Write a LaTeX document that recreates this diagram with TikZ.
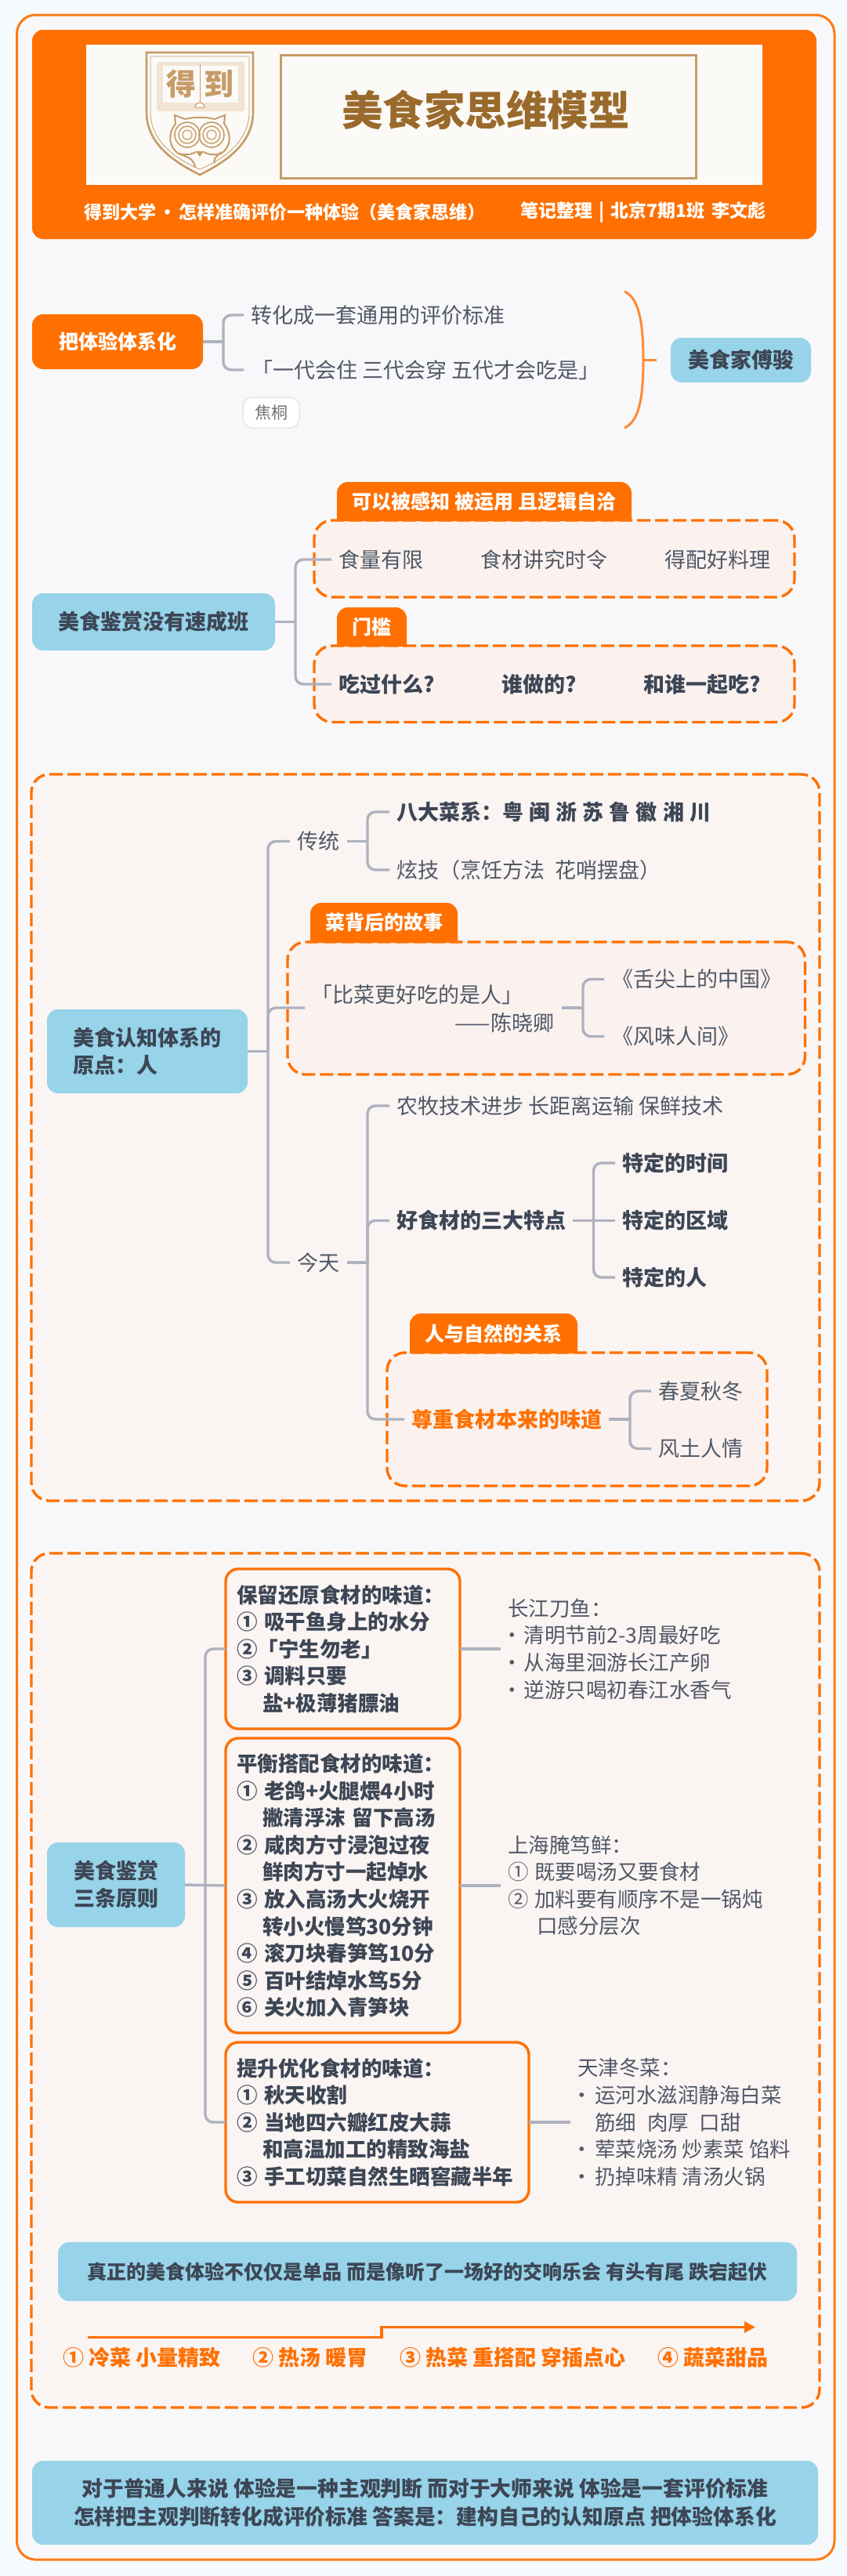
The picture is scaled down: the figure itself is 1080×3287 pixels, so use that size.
\documentclass[tikz,border=0pt]{standalone}
\usepackage{fontspec}
\setmainfont{Noto Sans CJK SC}
\usetikzlibrary{arrows.meta}
\definecolor{pagebg}{HTML}{F5FAFD}
\definecolor{innerbg}{HTML}{F8F8FB}
\definecolor{org}{HTML}{FF7000}
\definecolor{orgline}{HTML}{FF7A14}
\definecolor{brk}{HTML}{FF8A33}
\definecolor{sky}{HTML}{97D3E9}
\definecolor{txt}{HTML}{505866}
\definecolor{txtb}{HTML}{3D4655}
\definecolor{conncol}{HTML}{AEB1BE}
\definecolor{pink}{HTML}{FAF4F3}
\definecolor{pink2}{HTML}{FBF2EF}
\definecolor{banner}{HTML}{FBFAF6}
\definecolor{tan}{HTML}{C79B68}
\definecolor{tanl}{HTML}{F0E4D4}
\definecolor{brown}{HTML}{9A6A2C}
\newcommand{\bx}[7]{\node[#2,minimum width={(#5-#3)*1pt},minimum height={(#6-#4)*1pt}] (#1) at ({(#3+#5)/2},{(#4+#6)/2}) {#7};}
\newcommand{\tagbx}[6]{\fill[org] (#2,#5) -- (#2,{#3+14}) arc[start angle=180,end angle=270,radius=14] -- ({#4-14},#3) arc[start angle=270,end angle=360,radius=14] -- (#4,#5) -- cycle;
  \node[tagtext] (#1) at ({(#2+#4)/2},{(#3+#5)/2}) {#6};}
\newcommand{\dotitem}[1]{\makebox[#1][l]{\hspace*{-8pt}·}}
\tikzset{
  x=1pt,y=-1pt,
  conn/.style={draw=conncol,line width=3.4pt,rounded corners=10pt},
  base/.style={inner sep=0pt,outer sep=0pt},
  tr/.style={font=\fontsize{27}{34}\selectfont,text=txt,anchor=west,inner xsep=9pt,inner ysep=0pt,outer sep=0pt,text height=23.8pt,text depth=3.2pt},
  tb/.style={tr,font=\fontsize{27}{34}\selectfont\bfseries,text=txtb},
  torg/.style={tb,text=org},
  tagtext/.style={base,font=\fontsize{25}{30}\selectfont\bfseries,text=white},
  orgbox/.style={base,fill=org,rounded corners=14pt,text=white,font=\fontsize{25}{32}\selectfont\bfseries},
  skybox/.style={base,fill=sky,rounded corners=14pt,text=txtb,font=\fontsize{27}{35}\selectfont\bfseries,align=left},
  dashbox/.style={base,draw=org,fill=pink2,line width=3.4pt,dash pattern=on 17pt off 6pt,rounded corners=23pt},
  bigdash/.style={dashbox,fill=pink},
  solidbox/.style={base,draw=org,fill=pink,line width=3.4pt,rounded corners=16pt,align=left,inner xsep=14pt,text=txtb,font=\fontsize{26.5}{34.6}\selectfont\bfseries},
  side/.style={anchor=west,inner xsep=9pt,inner ysep=0pt,outer sep=0pt,align=left,text=txt,font=\fontsize{26.5}{34.6}\selectfont},
  hd/.style={base,text=white,font=\fontsize{23}{28}\selectfont\bfseries},
  lab/.style={base,text=org,font=\fontsize{27}{32}\selectfont\bfseries},
  logo/.style={draw=tan},
}
\begin{document}
\begin{tikzpicture}
\useasboundingbox (0,0) rectangle (1080,3287);
\fill[pagebg] (0,0) rectangle (1080,3287);
\draw[draw=orgline,fill=innerbg,line width=3pt,rounded corners=24pt] (21.5,19) rectangle (1065,3266);
% header
\bx{hdr}{base,fill=org,rounded corners=14pt}{41}{38}{1042}{305}{}
\fill[banner] (110,57) rectangle (973,236);
\bx{titlebox}{base,draw=tan,fill=banner,line width=3pt}{358}{70}{888}{227}{}
\node[base,text=brown,font=\fontsize{52.5}{60}\selectfont\bfseries] (title) at (620,140) {美食家思维模型};
% logo
\draw[logo,line width=2.6pt] (187,67) -- (323,67) -- (323,143) .. controls (323,185) and (285,208) .. (255,223) .. controls (225,208) and (187,185) .. (187,143) -- cycle;
\draw[logo,line width=.8pt] (192,72) -- (318,72) -- (318,143) .. controls (318,182) and (283,204) .. (255,216) .. controls (227,204) and (192,182) .. (192,143) -- cycle;
\fill[tanl,rounded corners=3pt] (200,79) rectangle (312,142);
\fill[banner] (208,84) rectangle (304,131);
\draw[tan,line width=1pt] (255,82) -- (255,132);
\draw[tan,line width=1pt,fill=banner] (249,137) arc[start angle=180,end angle=360,radius=6] -- cycle;
\node[base,text=tan,font=\fontsize{38}{40}\selectfont\bfseries] (logoa) at (231,107) {得};
\node[base,text=tan,font=\fontsize{38}{40}\selectfont\bfseries] (logob) at (279,107) {到};
\draw[logo,line width=2pt] (224,158) -- (223,147) -- (236,152);
\draw[logo,line width=2pt] (286,158) -- (287,147) -- (274,152);
\draw[logo,line width=2pt] (236,152) .. controls (248,149) and (262,149) .. (274,152);
\draw[logo,line width=2pt] (224,158) .. controls (214,170) and (215,188) .. (228,196);
\draw[logo,line width=2pt] (286,158) .. controls (296,170) and (295,188) .. (282,196);
\foreach \ex in {239,270}{
  \draw[logo,line width=1.6pt] (\ex,172) circle[radius=16];
  \draw[logo,line width=1.4pt] (\ex,172) circle[radius=11];
  \draw[logo,line width=1.2pt] (\ex,172) circle[radius=6];
}
\fill[tan] (250,193) -- (260,193) -- (255,200) -- cycle;
\draw[logo,line width=2pt] (228,196) .. controls (240,199) and (246,196) .. (250,194);
\draw[logo,line width=2pt] (282,196) .. controls (270,199) and (264,196) .. (260,194);
\draw[logo,line width=2pt] (228,196) .. controls (238,200) and (248,202) .. (249,214);
\draw[logo,line width=2pt] (282,194) .. controls (274,202) and (272,204) .. (274,208);
\node[hd,anchor=west] (hl) at (107,271) {得到大学\hspace{-2pt} · \hspace{-2pt}怎样准确评价一种体验（美食家思维）};
\node[hd,anchor=west] (hr) at (664,271) {笔记整理\hspace{3pt} | \hspace{3pt}北京7期1班\hspace{4pt} 李文彪};
% section 1
\bx{s1}{orgbox}{41}{401}{259}{471}{把体验体系化}
\node[tr] (s1a) at (311,402) {转化成一套通用的评价标准};
\node[tr,inner xsep=10pt] (s1b) at (311,472) {「一代会住 三代会穿 五代才会吃是」};
\bx{jt}{base,draw=black!10,fill=white,line width=1.5pt,rounded corners=12pt,text=black!55,font=\fontsize{21}{24}\selectfont}{310}{507}{382}{546}{焦桐}
\coordinate (j1) at (285,436);
\draw[conn] (s1.east) -- (j1);
\draw[conn] (j1) |- (s1a.west);
\draw[conn] (j1) |- (s1b.west);
\node[skybox,minimum width=179pt,minimum height=57pt,outer xsep=18pt] (fu) at (945.5,459.5) {美食家傅骏};
\coordinate (bk) at (821,459.5);
\coordinate (bk1) at (797,372);
\coordinate (bk2) at (797,546);
\draw[draw=brk,line width=3pt] (bk1) .. controls (815,380) and (821,410) .. (bk) .. controls (821,510) and (815,538) .. (bk2);
\draw[draw=brk,line width=3pt] (bk) -- (fu.west);
% section 2
\bx{d1}{dashbox}{401}{664}{1014}{762}{}
\bx{d2}{dashbox}{401}{824}{1014}{921.5}{}
\tagbx{tg1}{430}{615}{806}{665}{可以被感知 被运用 且逻辑自洽}
\tagbx{tg2}{430}{775}{519}{825}{门槛}
\bx{s2}{skybox}{41}{757}{351}{830}{美食鉴赏没有速成班}
\node[tr] (s2a) at (423,714) {食量有限};
\node[tr] (s2b) at (604,714) {食材讲究时令};
\node[tr] (s2c) at (839,714) {得配好料理};
\node[tb] (s2d) at (423,873) {吃过什么?};
\node[tb] (s2e) at (631,873) {谁做的?};
\node[tb] (s2f) at (812,873) {和谁一起吃?};
\coordinate (j2) at (377,793.5);
\draw[conn] (s2.east) -- (j2);
\draw[conn] (j2) |- (s2a.west);
\draw[conn] (j2) |- (s2d.west);
% section 3
\bx{da}{bigdash}{40}{988}{1046}{1915}{}
\bx{dc}{dashbox}{367}{1202}{1027.5}{1371}{}
\bx{dd}{dashbox}{494}{1726}{979}{1896}{}
\tagbx{tg3}{396}{1152}{584}{1203}{菜背后的故事}
\tagbx{tg4}{523}{1676}{737}{1727}{人与自然的关系}
\bx{s3}{skybox}{60}{1288}{316}{1395}{美食认知体系的\\原点：人}
\node[tr,inner xsep=9pt] (tt) at (370,1073.5) {传统};
\node[tr] (jt2) at (370,1611) {今天};
\coordinate (j3) at (342,1341.5);
\coordinate (j3s) at (389,1286);
\draw[conn] (s3.east) -- (j3);
\draw[conn] (j3) |- (tt.west);
\draw[conn] (j3) |- (jt2.west);
\draw[conn] (j3) |- (j3s);
\node[tb] (tta) at (497,1036) {八大菜系：粤\hspace{1pt} 闽\hspace{1pt} 浙\hspace{1pt} 苏\hspace{1pt} 鲁\hspace{1pt} 徽\hspace{1pt} 湘\hspace{1pt} 川};
\node[tr] (ttb) at (497,1110) {炫技（烹饪方法\hspace{7pt} 花哨摆盘）};
\coordinate (j4) at (469,1073.5);
\draw[conn] (tt.east) ++(1,0) -- (j4);
\draw[conn] (j4) |- (tta.west);
\draw[conn] (j4) |- (ttb.west);
\node[tr,inner xsep=0pt] (qa) at (397,1269) {「比菜更好吃的是人」};
\node[tr,inner xsep=0pt,anchor=east] (qb) at (707,1305) {——陈晓卿};
\node[tr,inner xsep=10pt] (bk3) at (771,1249.5) {《舌尖上的中国》};
\node[tr,inner xsep=10pt] (bk4) at (771,1322.5) {《风味人间》};
\coordinate (j5s) at (717,1286);
\coordinate (j5) at (744,1286);
\draw[conn] (j5s) -- (j5);
\draw[conn] (j5) |- (bk3.west);
\draw[conn] (j5) |- (bk4.west);
\node[tr] (ja) at (497,1411) {农牧技术进步 长距离运输 保鲜技术};
\node[tb,inner xsep=9pt] (jb) at (497,1557.5) {好食材的三大特点};
\node[torg] (jc) at (516,1811) {尊重食材本来的味道};
\coordinate (j6) at (469,1611);
\draw[conn] (jt2.east) ++(1,0) -- (j6);
\draw[conn] (j6) |- (ja.west);
\draw[conn] (j6) |- (jb.west);
\draw[conn] (j6) |- (jc.west);
\node[tb] (jb1) at (785,1484) {特定的时间};
\node[tb] (jb2) at (785,1557.5) {特定的区域};
\node[tb] (jb3) at (785,1630) {特定的人};
\coordinate (j7) at (757.5,1557.5);
\draw[conn] (jb.east) -- (jb2.west);
\draw[conn] (j7) |- (jb1.west);
\draw[conn] (j7) |- (jb3.west);
\node[tr] (jc1) at (831,1775) {春夏秋冬};
\node[tr] (jc2) at (831,1848.5) {风土人情};
\coordinate (j8) at (804,1811);
\draw[conn] (jc.east) -- (j8);
\draw[conn] (j8) |- (jc1.west);
\draw[conn] (j8) |- (jc2.west);
% section 4
\bx{db}{bigdash}{40}{1982}{1046}{3072}{}
\bx{s4}{skybox,align=center}{60}{2351}{236}{2459}{美食鉴赏\\三条原则}
\bx{p1}{solidbox,text width=271pt}{288}{2002}{587}{2206}{保留还原食材的味道：\\① 吸干鱼身上的水分\\②「宁生勿老」\\③ 调料只要\\\hspace*{33pt}盐+极薄猪膘油}
\bx{p2}{solidbox,text width=271pt}{288}{2218}{587}{2594}{平衡搭配食材的味道：\\① 老鸽+火腿煨4小时\\\hspace*{33pt}撇清浮沫 留下高汤\\② 咸肉方寸浸泡过夜\\\hspace*{33pt}鲜肉方寸一起焯水\\③ 放入高汤大火烧开\\\hspace*{33pt}转小火慢笃30分钟\\④ 滚刀块春笋笃10分\\⑤ 百叶结焯水笃5分\\⑥ 关火加入青笋块}
\bx{p3}{solidbox,text width=359pt}{288}{2606}{675}{2810}{提升优化食材的味道：\\① 秋天收割\\② 当地四六瓣红皮大蒜\\\hspace*{33pt}和高温加工的精致海盐\\③ 手工切菜自然生晒窖藏半年}
\coordinate (j9) at (262,2405);
\draw[conn] (s4.east) -- (p2.west);
\draw[conn] (j9) |- (p1.west);
\draw[conn] (j9) |- (p3.west);
\node[side] (n1) at (639,2104) {长江刀鱼：\\\dotitem{21pt}清明节前2-3周最好吃\\\dotitem{21pt}从海里洄游长江产卵\\\dotitem{21pt}逆游只喝初春江水香气};
\node[side] (n2) at (639,2406) {上海腌笃鲜：\\\makebox[34pt][l]{①}既要喝汤又要食材\\\makebox[34pt][l]{②}加料要有顺序不是一锅炖\\\hspace*{37pt}口感分层次};
\node[side] (n3) at (728,2708) {天津冬菜：\\\dotitem{22pt}运河水滋润静海白菜\\\hspace*{22pt}筋细\hspace{14pt}肉厚\hspace{14pt}口甜\\\dotitem{22pt}荤菜烧汤 炒素菜 馅料\\\dotitem{22pt}扔掉味精 清汤火锅};
\draw[conn] (p1.east) -- (n1.west);
\draw[conn] (p2.east) -- (n2.west);
\draw[conn] (p3.east) -- (n3.west);
\bx{strip}{base,fill=sky,rounded corners=14pt,text=txtb,font=\fontsize{25}{30}\selectfont\bfseries}{74}{2861}{1017}{2936}{真正的美食体验不仅仅是单品 而是像听了一场好的交响乐会 有头有尾 跌宕起伏}
\coordinate (a0) at (112,2982.5);
\coordinate (a1) at (487,2982.5);
\coordinate (a2) at (487,2969.4);
\coordinate (a3) at (964,2969.4);
\draw[draw=org,line width=3.5pt,-{Triangle[length=14pt,width=14pt]}] (a0) -- (a1) -- (a2) -- (a3);
\node[lab,anchor=west] (l1) at (80,3008) {① 冷菜 小量精致};
\node[lab,anchor=west] (l2) at (322,3008) {② 热汤 暖胃};
\node[lab,anchor=west] (l3) at (510,3008) {③ 热菜 重搭配 穿插点心};
\node[lab,anchor=west] (l4) at (839,3008) {④ 蔬菜甜品};
\bx{endb}{base,fill=sky,rounded corners=14pt,text=txtb,align=center,font=\fontsize{26.8}{36}\selectfont\bfseries}{41}{3140}{1044}{3247}{对于普通人来说 体验是一种主观判断 而对于大师来说 体验是一套评价标准\\怎样把主观判断转化成评价标准 答案是：建构自己的认知原点 把体验体系化}
\end{tikzpicture}
\end{document}
